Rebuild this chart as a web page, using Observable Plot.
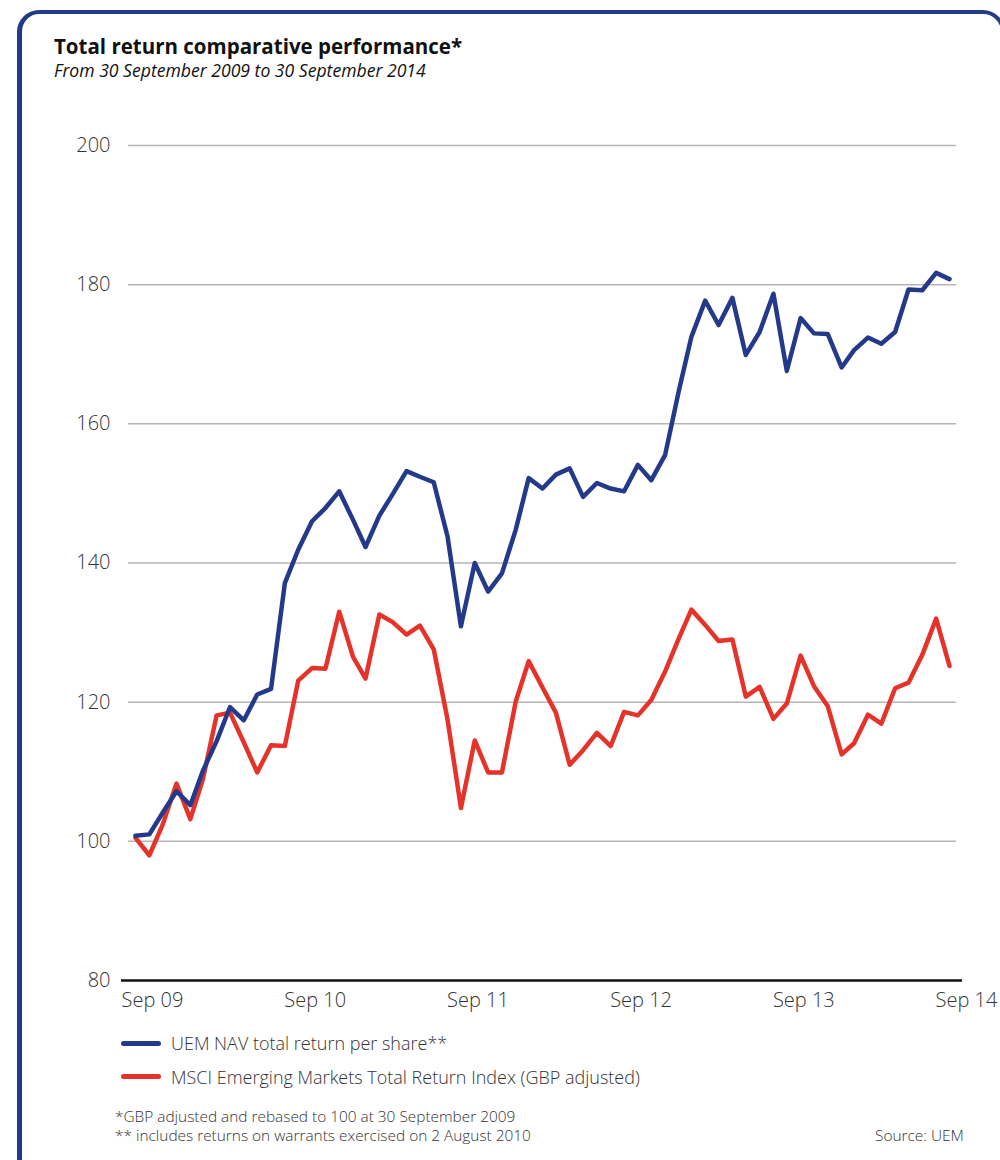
<!DOCTYPE html>
<html><head><meta charset="utf-8">
<script src="https://cdn.jsdelivr.net/npm/d3@7"></script>
<script src="https://cdn.jsdelivr.net/npm/@observablehq/plot@0.6"></script>
<style>
body{margin:0;background:#fff;font-family:"Open Sans",sans-serif;}
#page{position:relative;width:1000px;height:1160px;overflow:hidden;background:#fff;}
.frame{position:absolute;left:17px;top:10px;width:988px;height:1170px;box-sizing:border-box;border:4px solid #233a8b;border-left-width:5px;border-radius:22px;}
.t{position:absolute;white-space:nowrap;line-height:1;color:#111;}
#title{left:54px;top:36px;font-size:20.5px;font-weight:700;}
#subtitle{left:54px;top:62px;font-size:17.6px;font-style:italic;font-weight:400;}
#chart{position:absolute;left:0;top:0;}
.leg{position:absolute;left:121px;width:40px;height:5px;border-radius:3px;}
.legt{font-size:18px;color:#333;font-weight:300;}
.note{font-size:15.4px;color:#333;font-weight:300;}
</style></head><body>
<div id="page">
  <div class="frame"></div>
  <div class="t" id="title"></div>
  <div class="t" id="subtitle"></div>
  <div id="chart"></div>
  <div class="leg" id="leg0" style="top:1041px"></div>
  <div class="leg" id="leg1" style="top:1074px"></div>
  <div class="t legt" id="legt0" style="left:171px;top:1034px"></div>
  <div class="t legt" id="legt1" style="left:171px;top:1068px"></div>
  <div class="t note" id="note0" style="left:115px;top:1109px"></div>
  <div class="t note" id="note1" style="left:115px;top:1128px"></div>
  <div class="t note" id="source" style="left:875px;top:1128px"></div>
</div>
<script>
const titleText = "Total return comparative performance*";
const subtitleText = "From 30 September 2009 to 30 September 2014";
const seriesNames = ["UEM NAV total return per share**", "MSCI Emerging Markets Total Return Index (GBP adjusted)"];
const seriesColors = ["#233a8b", "#e6332a"];
const footnotes = ["*GBP adjusted and rebased to 100 at 30 September 2009", "** includes returns on warrants exercised on 2 August 2010"];
const sourceText = "Source: UEM";

// Monthly values, Sep 2009 – Sep 2014 (61 month-ends)
const uemNav = [100.8, 101.0, 104.1, 107.2, 105.2, 110.1, 114.4, 119.3, 117.4, 121.1,
  121.9, 137.1, 141.9, 146.0, 147.9, 150.3, 146.2, 142.3, 146.8, 149.9,
  153.2, 152.4, 151.6, 143.8, 130.9, 140.0, 135.9, 138.5, 144.8, 152.2,
  150.7, 152.7, 153.6, 149.5, 151.5, 150.7, 150.3, 154.1, 151.9, 155.5,
  164.8, 172.5, 177.7, 174.2, 178.1, 169.9, 173.2, 178.7, 167.6, 175.2,
  173.0, 172.9, 168.1, 170.6, 172.4, 171.5, 173.2, 179.3, 179.2, 181.7, 180.8];
const msciEM = [100.5, 98.0, 102.4, 108.3, 103.2, 108.9, 118.1, 118.5, 114.2, 109.9,
  113.8, 113.7, 123.1, 124.9, 124.8, 133.0, 126.5, 123.4, 132.6, 131.5,
  129.7, 131.0, 127.6, 117.5, 104.8, 114.5, 109.9, 109.9, 120.1, 125.9,
  122.1, 118.5, 111.0, 113.1, 115.6, 113.7, 118.6, 118.1, 120.3, 124.4,
  129.2, 133.3, 131.1, 128.8, 129.0, 120.8, 122.2, 117.6, 119.8, 126.7,
  122.3, 119.4, 112.5, 114.1, 118.2, 116.9, 122.0, 122.8, 126.8, 132.0, 125.2];
const yTicks = [80, 100, 120, 140, 160, 180, 200];
const tickLabels = ["Sep 09", "Sep 10", "Sep 11", "Sep 12", "Sep 13", "Sep 14"];

const dates = uemNav.map((_, i) => new Date(Date.UTC(2009, 9 + i, 0)));
const tickDates = tickLabels.map((_, k) => new Date(Date.UTC(2009 + k, 8, 30)));

const rows = [];
[uemNav, msciEM].forEach((vals, s) => vals.forEach((v, i) => rows.push({date: dates[i], value: v, series: seriesNames[s]})));

document.getElementById("title").textContent = titleText;
document.getElementById("subtitle").textContent = subtitleText;
seriesNames.forEach((n, i) => {
  document.getElementById("legt" + i).textContent = n;
  document.getElementById("leg" + i).style.background = seriesColors[i];
});
footnotes.forEach((n, i) => document.getElementById("note" + i).textContent = n);
document.getElementById("source").textContent = sourceText;

const chart = Plot.plot({
  width: 1000, height: 1020,
  marginLeft: 121, marginRight: 38, marginTop: 145, marginBottom: 40,
  style: {fontFamily: '"Open Sans", sans-serif', fontSize: "20px", color: "#333", background: "transparent", overflow: "visible"},
  x: {type: "utc", domain: [dates[0], dates[dates.length - 1]], range: [135, 949]},
  y: {domain: [80, 200]},
  color: {domain: seriesNames, range: seriesColors},
  marks: [
    Plot.ruleY(yTicks.filter(v => v > 80), {stroke: "#b5b5b5", strokeWidth: 1.5, insetLeft: 7, insetRight: 6}),
    Plot.axisY(yTicks, {tickSize: 0, tickPadding: 11, fontSize: 20, fill: "#333", fontWeight: 300, label: null}),
    Plot.axisX(tickDates, {tickSize: 0, tickPadding: 12, dx: 17, fontSize: 20, fill: "#333", fontWeight: 300, label: null,
      tickFormat: d => tickLabels[tickDates.findIndex(t => +t === +d)]}),
    Plot.line(rows.filter(r => r.series === seriesNames[1]), {x: "date", y: "value", stroke: seriesColors[1], strokeWidth: 4.5, strokeLinejoin: "round", strokeLinecap: "round"}),
    Plot.line(rows.filter(r => r.series === seriesNames[0]), {x: "date", y: "value", stroke: seriesColors[0], strokeWidth: 4.5, strokeLinejoin: "round", strokeLinecap: "round"}),
    Plot.ruleY([80], {stroke: "#111", strokeWidth: 2.5})
  ]
});
document.getElementById("chart").appendChild(chart);
</script>
</body></html>
